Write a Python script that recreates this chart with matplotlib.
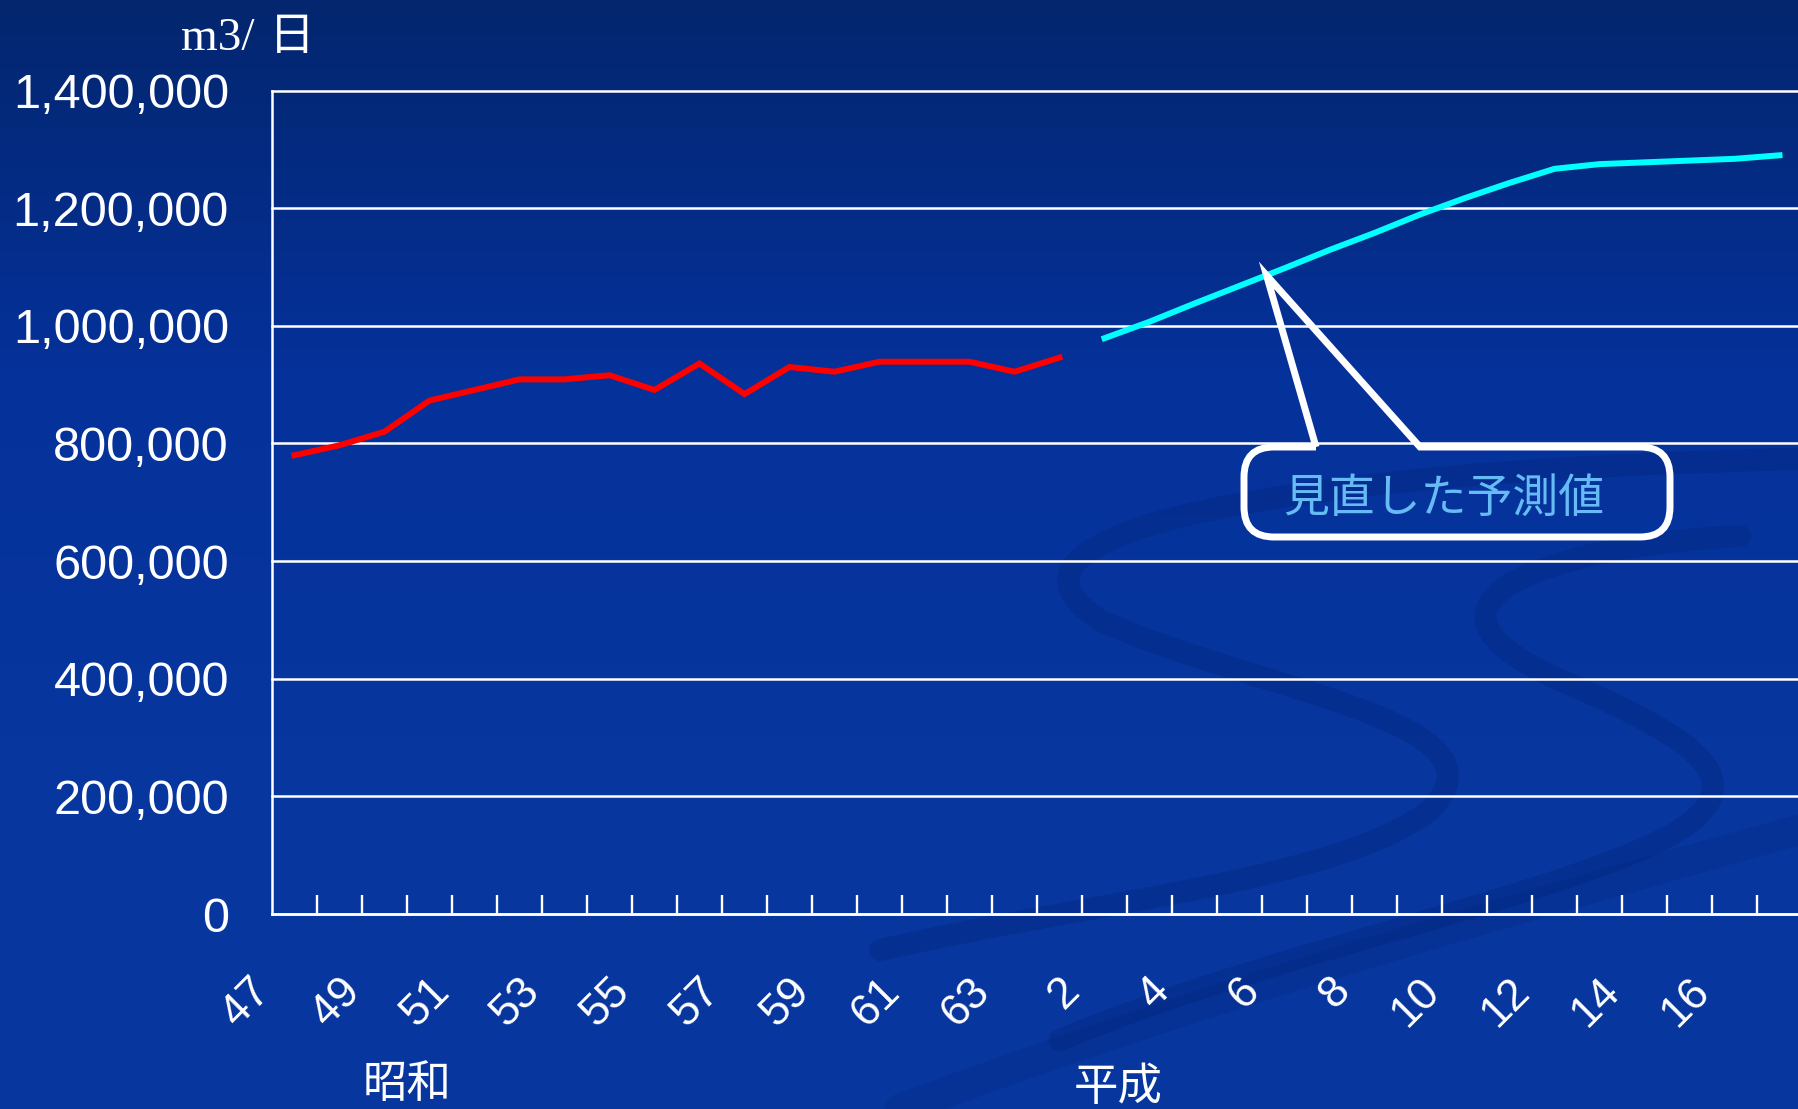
import numpy as np
import matplotlib.pyplot as plt
from matplotlib.path import Path
from matplotlib.patches import PathPatch
from matplotlib.transforms import ScaledTranslation
from matplotlib.colors import LinearSegmentedColormap

W, H = 1798, 1109
DPI = 100

# year labels along the category axis (Showa 47 .. Heisei 17)
year_labels = ['47', '48', '49', '50', '51', '52', '53', '54', '55', '56', '57', '58',
               '59', '60', '61', '62', '63', '1', '2', '3', '4', '5', '6', '7', '8',
               '9', '10', '11', '12', '13', '14', '15', '16', '17']

# actual demand (red), Showa 47 .. Heisei 1
actual = [780000, 797000, 820000, 873000, 891000, 909000, 909000, 916000, 891000,
          936000, 884000, 930000, 922000, 939000, 939000, 939000, 922000, 946000]

# revised forecast (cyan), Heisei 2 .. Heisei 17
forecast = [979000, 1007000, 1038000, 1068000, 1098000, 1129000, 1158000, 1189000,
            1217000, 1243000, 1267000, 1275000, 1278000, 1281000, 1284000, 1290000]

y_ticks = [0, 200000, 400000, 600000, 800000, 1000000, 1200000, 1400000]
y_tick_labels = ['0', '200,000', '400,000', '600,000', '800,000', '1,000,000',
                 '1,200,000', '1,400,000']

unit_label = ['m3/', '日']
era_labels = ['昭和', '平成']
callout_text = '見直した予測値'

SANS = ['Liberation Sans', 'DejaVu Sans']
CJK = ['Noto Sans CJK JP', 'DejaVu Sans']

fig = plt.figure(figsize=(W / DPI, H / DPI), dpi=DPI)

# ---- background: dark blue gradient with faint swirls
bg = fig.add_axes([0, 0, 1, 1], zorder=0)
cmap = LinearSegmentedColormap.from_list('bg', ['#03266e', '#05319a', '#07369f', '#07369f'])
grad = np.linspace(1, 0, 256).reshape(-1, 1)
bg.imshow(grad, cmap=cmap, aspect='auto', extent=[0, W, 0, H], origin='lower')
bg.set_xlim(0, W)
bg.set_ylim(0, H)
bg.axis('off')


def swirl(pts, lw, alpha):
    pts = [(x, H - y) for x, y in pts]
    codes = [Path.MOVETO] + [Path.CURVE4] * (len(pts) - 1)
    bg.add_patch(PathPatch(Path(pts, codes), facecolor='none', edgecolor='#011d66',
                           lw=lw, alpha=alpha, capstyle='round'))


swirl([(1798, 459), (1300, 470), (960, 530), (1100, 620),
       (1250, 690), (1520, 720), (1430, 810),
       (1340, 880), (1100, 900), (880, 950)], 16, 0.22)
swirl([(1740, 536), (1560, 545), (1380, 600), (1560, 680),
       (1700, 740), (1780, 790), (1640, 850),
       (1500, 910), (1250, 960), (1060, 1040)], 16, 0.22)
swirl([(900, 1109), (1250, 980), (1550, 900), (1798, 830)], 22, 0.15)

# ---- main chart
x_all = np.arange(len(year_labels))
x_actual = x_all[:len(actual)]
x_forecast = x_all[len(actual):len(actual) + len(forecast)]

ax = fig.add_axes([272 / W, (H - 914) / H, (1802 - 272) / W, (914 - 90.6) / H], zorder=1)
ax.set_facecolor('none')

ax.plot(x_actual, actual, color='#ff0000', lw=4.3, solid_joinstyle='miter', zorder=3)
ax.plot(x_forecast, forecast, color='#00ffff', lw=4.3, solid_joinstyle='round', zorder=3)

ax.set_xlim(-0.5, len(year_labels) - 0.5)
ax.set_ylim(0, 1400000)

ax.set_yticks(y_ticks, y_tick_labels)
ax.tick_params(axis='y', length=0, pad=31, labelsize=35, labelcolor='white')
for lbl in ax.get_yticklabels():
    lbl.set_fontfamily(SANS)
ax.yaxis.grid(True, color='white', lw=1.8)
for gl in ax.get_ygridlines():
    gl.set_clip_on(False)

ax.set_xticks(x_all[::2], year_labels[::2])
ax.set_xticks(np.arange(0.5, len(year_labels) - 1, 1), minor=True)
ax.tick_params(axis='x', which='major', length=0, pad=51, labelsize=32, labelcolor='white')
ax.tick_params(axis='x', which='minor', direction='in', length=14, width=1.7, color='white')
shift = ScaledTranslation(-31 / DPI, 0, fig.dpi_scale_trans)
for lbl in ax.get_xticklabels():
    lbl.set_fontfamily(SANS)
    lbl.set_rotation(45)
    lbl.set_rotation_mode('anchor')
    lbl.set_ha('right')
    lbl.set_va('center')
    lbl.set_transform(lbl.get_transform() + shift)

for side in ['top', 'right']:
    ax.spines[side].set_visible(False)
for side in ['left', 'bottom']:
    ax.spines[side].set_color('white')
    ax.spines[side].set_linewidth(1.8)

# ---- overlay in pixel coordinates: labels and callout
ov = fig.add_axes([0, 0, 1, 1], zorder=3)
ov.set_xlim(0, W)
ov.set_ylim(0, H)
ov.axis('off')

u1 = ov.text(181, H - 50, unit_label[0], fontsize=34, color='white',
             family=['Liberation Serif'], ha='left', va='baseline')
ext = u1.get_window_extent(renderer=fig.canvas.get_renderer())
ov.text(ext.x1 + 14, H - 50, unit_label[1], fontsize=33, color='white', family=CJK,
        ha='left', va='baseline')

ov.text(407, 25, era_labels[0], fontsize=32, color='white', family=CJK, ha='center', va='center')
ov.text(1118, 22, era_labels[1], fontsize=32, color='white', family=CJK, ha='center', va='center')

# callout pointing at the forecast line
tip_idx = 21.6
tip_val = np.interp(tip_idx, x_forecast, forecast)
tx, ty = ax.transData.transform((tip_idx, tip_val))

x0, x1, y0, y1, r = 1244, 1670, H - 537, H - 447, 30
bl, br = 1316, 1420
verts = [(bl, y1), (tx, ty), (br, y1), (x1 - r, y1),
         (x1, y1), (x1, y1 - r), (x1, y0 + r),
         (x1, y0), (x1 - r, y0), (x0 + r, y0),
         (x0, y0), (x0, y0 + r), (x0, y1 - r),
         (x0, y1), (x0 + r, y1), (bl, y1)]
codes = [Path.MOVETO, Path.LINETO, Path.LINETO, Path.LINETO,
         Path.CURVE3, Path.CURVE3, Path.LINETO,
         Path.CURVE3, Path.CURVE3, Path.LINETO,
         Path.CURVE3, Path.CURVE3, Path.LINETO,
         Path.CURVE3, Path.CURVE3, Path.LINETO]
ov.add_patch(PathPatch(Path(verts, codes), facecolor='none', edgecolor='white',
                       lw=5, joinstyle='miter'))
ov.text((x0 + x1) / 2 - 13, (y0 + y1) / 2 - 7, callout_text, fontsize=33, color='#66bbf5',
        family=CJK, ha='center', va='center')

fig.savefig('out.png', dpi=DPI)
